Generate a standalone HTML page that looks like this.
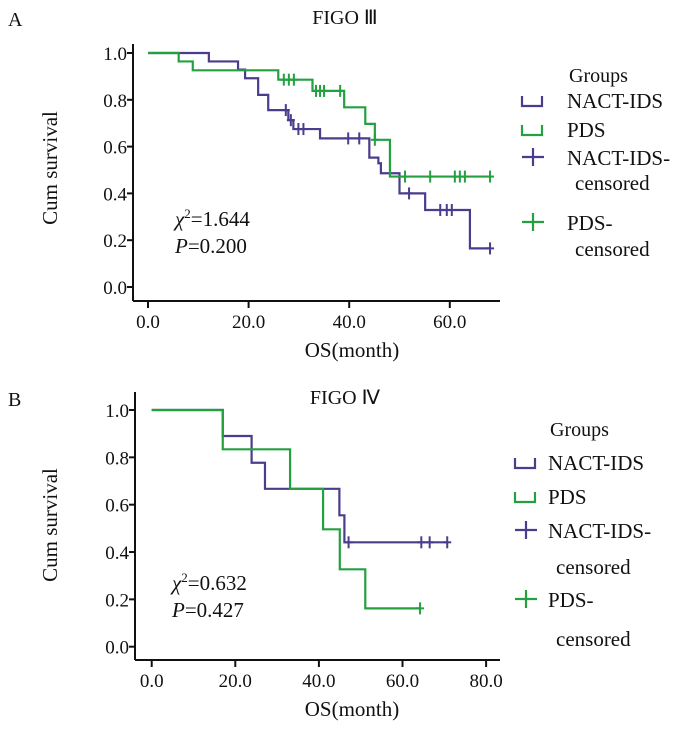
<!DOCTYPE html>
<html><head><meta charset="utf-8"><style>
body{margin:0;background:#fff;}
svg{display:block;font-family:"Liberation Serif",serif;}
</style></head><body>
<svg id="c" width="700" height="745" viewBox="0 0 700 745"></svg>
<script>
// Panel A data (months, survival)
const aNactT=[0,12.1,17.9,19.3,21.9,23.9,27.9,28.9,34.2,44.0,45.8,46.3,50.0,55.1,64.0,68.0];
const aNactS=[1,0.964,0.929,0.892,0.821,0.756,0.713,0.675,0.635,0.553,0.529,0.486,0.400,0.329,0.165,0.165];
const aNactCens=[27.4,28.4,29.9,30.9,39.8,42.0,51.9,58.1,59.4,60.4,68.0];
const aPdsT=[0,6.1,8.9,25.9,32.7,39.0,43.2,45.1,48.1,68.0];
const aPdsS=[1,0.964,0.926,0.886,0.838,0.768,0.697,0.629,0.472,0.472];
const aPdsCens=[27.0,28.0,29.0,33.4,34.2,35.0,38.2,45.1,51.1,56.1,61.0,62.0,63.0,68.0];
// Panel B data
const bNactT=[0,17.0,23.9,27.1,44.9,46.1,70.7];
const bNactS=[1,0.89,0.777,0.667,0.555,0.441,0.441];
const bNactCens=[47.1,64.5,66.5,70.7];
const bPdsT=[0,17.0,33.1,41.0,45.0,51.1,64.2];
const bPdsS=[1,0.834,0.667,0.496,0.327,0.162,0.162];
const bPdsCens=[64.2];
const yTicks=[0,0.2,0.4,0.6,0.8,1.0];
const aXTicks=[0,20,40,60];
const bXTicks=[0,20,40,60,80];
const PURPLE="#4a3d8c",GREEN="#24a040";
const svg=document.getElementById('c');
const NS="http://www.w3.org/2000/svg";
function mk(tag,attrs,parent){const e=document.createElementNS(NS,tag);for(const k in attrs)e.setAttribute(k,attrs[k]);(parent||svg).appendChild(e);return e;}
function txt(x,y,s,size,anchor,parent){const t=mk('text',{x:x,y:y,'font-size':size,'text-anchor':anchor||'start',fill:'#111'},parent);t.textContent=s;return t;}

function panel(p){
  const g=mk('g',{});
  
  
  const X=m=>p.x0+m*p.xs, Y=s=>p.y0-s*p.ys;
  const ax=mk('g',{stroke:'#111','stroke-width':2,fill:'none'},g);
  
  
  mk('line',{x1:p.axX,y1:p.axTop,x2:p.axX,y2:p.axY},ax);
  mk('line',{x1:p.axX,y1:p.axY,x2:p.axRight,y2:p.axY},ax);
  yTicks.forEach(v=>{mk('line',{x1:p.axX-6,y1:Y(v),x2:p.axX,y2:Y(v)},ax);
    const t=txt(p.axX-6,Y(v)+7,v.toFixed(1),19,'end',g);
    
    });
  p.xt.forEach(v=>{mk('line',{x1:X(v),y1:p.axY,x2:X(v),y2:p.axY+7},ax);
    const t=txt(X(v),p.axY+27,v.toFixed(1),19,'middle',g);
    
    });
  let t=txt(352,p.axY+56,'OS(month)',21,'middle',g);
  
  
  t=txt(0,0,'Cum survival',21,'middle',g);
  t.setAttribute('transform',`translate(57,${p.titleY}) rotate(-90)`);
  
  
  t=txt(345,p.topY,p.title,20,'middle',g);
  
  
  t=txt(8,p.topY+2,p.letter,20,'start',g);
  
  
  function curve(T,S,C,col,name){
    let d=`M${X(T[0])},${Y(S[0])}`;
    for(let i=1;i<T.length;i++){d+=` H${X(T[i])} V${Y(S[i])}`;}
    const path=mk('path',{d:d,stroke:col,'stroke-width':2.2,fill:'none'},g);
    
    
    C.forEach(c=>{let s=S[0];for(let i=0;i<T.length;i++){if(T[i]<=c)s=S[i];}
      const l=mk('line',{x1:X(c),y1:Y(s)-6,x2:X(c),y2:Y(s)+6,stroke:col,'stroke-width':2},g);
      
      
      const h=mk('line',{x1:X(c)-4,y1:Y(s),x2:X(c)+4,y2:Y(s),stroke:col,'stroke-width':2},g);
      
      });
  }
  curve(p.nT,p.nS,p.nC,PURPLE,'nact-ids');
  curve(p.pT,p.pS,p.pC,GREEN,'pds');
  const st=mk('text',{x:p.stX,y:p.stY,'font-size':21,fill:'#111'},g);
  
  
  st.innerHTML=`<tspan font-style="italic">χ</tspan><tspan font-size="13" dy="-8">2</tspan><tspan dy="8">=${p.chi}</tspan>`;
  const pv=mk('text',{x:p.stX,y:p.stY+27,'font-size':21,fill:'#111'},g);
  
  
  pv.innerHTML=`<tspan font-style="italic">P</tspan>=${p.pv}`;
  const L=p.leg;
  const lg=mk('g',{},g);
  
  
  txt(L.tx+2,L.y[0],'Groups',20,'start',lg);
  function stepIcon(y,col){const ic=mk('path',{d:`M${L.ix},${y-8} V${y+2} H${L.ix+20} V${y-8}`,stroke:col,'stroke-width':2.2,fill:'none'},lg);
    }
  function plusIcon(y,col){mk('line',{x1:L.ix,y1:y,x2:L.ix+22,y2:y,stroke:col,'stroke-width':2.2},lg);
    mk('line',{x1:L.ix+11,y1:y-9,x2:L.ix+11,y2:y+9,stroke:col,'stroke-width':2.2},lg);}
  stepIcon(L.y[1]-4,PURPLE); txt(L.tx,L.y[1],'NACT-IDS',21,'start',lg);
  stepIcon(L.y[2]-4,GREEN); txt(L.tx,L.y[2],'PDS',21,'start',lg);
  plusIcon(L.y[3]-8,PURPLE); txt(L.tx,L.y[3],'NACT-IDS-',21,'start',lg); txt(L.tx+8,L.y[4],'censored',21,'start',lg);
  plusIcon(L.y[5]-8,GREEN); txt(L.tx,L.y[5],'PDS-',21,'start',lg); txt(L.tx+8,L.y[6],'censored',21,'start',lg);
}
panel({name:'panel-a-figo-iii',letter:'A',title:'FIGO Ⅲ',topY:24,x0:148,xs:5.03,y0:287,ys:234,axX:133,axTop:44,axY:301,axRight:500,xt:aXTicks,titleY:168,
  nT:aNactT,nS:aNactS,nC:aNactCens,pT:aPdsT,pS:aPdsS,pC:aPdsCens,stX:175,stY:226,chi:'1.644',pv:'0.200',
  leg:{ix:522,tx:567,y:[82,108,137,165,190,230,256]}});
panel({name:'panel-b-figo-iv',letter:'B',title:'FIGO Ⅳ',topY:404,x0:151.7,xs:4.18,y0:646.7,ys:236.7,axX:135,axTop:392,axY:660,axRight:500,xt:bXTicks,titleY:525,
  nT:bNactT,nS:bNactS,nC:bNactCens,pT:bPdsT,pS:bPdsS,pC:bPdsCens,stX:172,stY:590,chi:'0.632',pv:'0.427',
  leg:{ix:515,tx:548,y:[436,470,504,538,574,607,646]}});
</script>
</body></html>
